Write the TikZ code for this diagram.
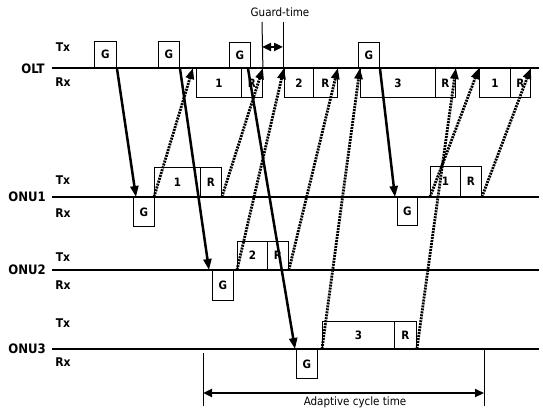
\documentclass[tikz,border=0pt]{standalone}
\usepackage{fontspec}
\setmainfont{DejaVu Sans Condensed}
\usetikzlibrary{arrows.meta}
\begin{document}
\begin{tikzpicture}[x=1pt,y=-1pt,
  slot/.style={draw=black,line width=0.9pt,fill=white,inner sep=0pt,
    font=\bfseries\fontsize{11.5}{13}\selectfont},
  axis/.style={line width=2.7pt},
  tag/.style={font=\bfseries\fontsize{12}{13}\selectfont},
  unit/.style={font=\bfseries\fontsize{13}{14}\selectfont},
  grant/.style={line width=2.5pt,-{Triangle[length=11pt,width=8pt]}},
  report/.style={line width=2.8pt,dash pattern=on 2pt off 1pt,
    -{Triangle[length=11pt,width=8pt]}},
  span/.style={line width=2.4pt,{Triangle[length=9pt,width=8pt]}-{Triangle[length=9pt,width=8pt]}},
  tick/.style={line width=1pt},
  caption/.style={font=\fontsize{11.5}{13}\selectfont}
]
\useasboundingbox[fill=white] (0,0) rectangle (543,411);

% time axes
\draw[axis] (52,68) -- (539,68);
\draw[axis] (52,197) -- (539,197);
\draw[axis] (52,270) -- (539,270);
\draw[axis] (52,349) -- (539,349);

% axis labels
\node[unit] (olt) at (33,69) {OLT};
\node[tag] (oltTx) at (63,47) {Tx};
\node[tag] (oltRx) at (63,82) {Rx};
\node[unit] (onu1) at (27,197) {ONU1};
\node[tag] (onu1Tx) at (63,180) {Tx};
\node[tag] (onu1Rx) at (63,213) {Rx};
\node[unit] (onu2) at (27,270) {ONU2};
\node[tag] (onu2Tx) at (63,257) {Tx};
\node[tag] (onu2Rx) at (63,285) {Rx};
\node[unit] (onu3) at (27,349) {ONU3};
\node[tag] (onu3Tx) at (63,323) {Tx};
\node[tag] (onu3Rx) at (63,362) {Rx};

% OLT transmitted grants
\node[slot,minimum width=22,minimum height=26,anchor=south west] (oG1) at (94,68) {G};
\node[slot,minimum width=21,minimum height=26,anchor=south west] (oG2) at (158,68) {G};
\node[slot,minimum width=21,minimum height=25,anchor=south west] (oG3) at (229,68) {G};
\node[slot,minimum width=21,minimum height=25,anchor=south west] (oG4) at (358,68) {G};

% OLT received bursts
\node[slot,minimum width=45,minimum height=29,anchor=north west] (oD1) at (196,68) {1};
\node[slot,minimum width=21,minimum height=29,anchor=north west] (oR1) at (241,68) {R};
\node[slot,minimum width=29,minimum height=29,anchor=north west] (oD2) at (284,68) {2};
\node[slot,minimum width=24,minimum height=29,anchor=north west] (oR2) at (313,68) {R};
\node[slot,minimum width=75,minimum height=29,anchor=north west] (oD3) at (360,68) {3};
\node[slot,minimum width=20,minimum height=29,anchor=north west] (oR3) at (435,68) {R};
\node[slot,minimum width=31,minimum height=29,anchor=north west] (oD4) at (479,68) {1};
\node[slot,minimum width=20,minimum height=29,anchor=north west] (oR4) at (510,68) {R};

% ONU1
\node[slot,minimum width=21,minimum height=29,anchor=north west] (aG1) at (133,197) {G};
\node[slot,minimum width=46,minimum height=29,anchor=south west] (aD1) at (154,197) {1};
\node[slot,minimum width=21,minimum height=29,anchor=south west] (aR1) at (200,197) {R};
\node[slot,minimum width=20,minimum height=28,anchor=north west] (aG2) at (397,197) {G};
\node[slot,minimum width=30,minimum height=30,anchor=south west] (aD2) at (430,197) {1};
\node[slot,minimum width=21,minimum height=30,anchor=south west] (aR2) at (460,197) {R};

% ONU2
\node[slot,minimum width=21,minimum height=30,anchor=north west] (bG) at (212,270) {G};
\node[slot,minimum width=30,minimum height=28,anchor=south west] (bD) at (237,270) {2};
\node[slot,minimum width=21,minimum height=28,anchor=south west] (bR) at (267,270) {R};

% ONU3
\node[slot,minimum width=21,minimum height=29,anchor=north west] (cG) at (296,349) {G};
\node[slot,minimum width=72,minimum height=27,anchor=south west] (cD) at (322,349) {3};
\node[slot,minimum width=22,minimum height=27,anchor=south west] (cR) at (394,349) {R};

% downstream grants
\draw[grant] (oG1.south east) -- ([xshift=3]aG1.north west);
\draw[grant] (oG2.south east) -- ([xshift=-3]bG.north west);
\draw[grant] ([xshift=-3]oG3.south east) -- ([xshift=-1]cG.north west);
\draw[grant] (oG4.south east) -- ([xshift=-2]aG2.north west);

% upstream bursts
\draw[report] (aD1.south west) -- ([xshift=-3]oD1.north west);
\draw[report] (aR1.south east) -- (oR1.north east);
\draw[report] (bD.south west) -- (oD2.north west);
\draw[report] (bR.south east) -- (oR2.north east);
\draw[report] (cD.south west) -- (oD3.north west);
\draw[report] (cR.south east) -- (oR3.north east);
\draw[report] (aD2.south west) -- (oD4.north west);
\draw[report] (aR2.south east) -- (oR4.north east);

% guard time
\coordinate (gtA) at (262,22);
\coordinate (gtB) at (283,22);
\draw[tick] (oR1.north east) -- (gtA);
\draw[tick] ([xshift=-1]oD2.north west) -- (gtB);
\coordinate (gtL) at (262,47);
\coordinate (gtR) at (283,47);
\draw[span] (gtL) -- (gtR);
\node[caption] (gtText) at (280,12) {Guard-time};

% adaptive cycle time
\coordinate (cyA) at (203,353);
\coordinate (cyB) at (203,406);
\coordinate (cyC) at (484,349);
\coordinate (cyD) at (484,406);
\draw[tick] (cyA) -- (cyB);
\draw[tick] (cyC) -- (cyD);
\coordinate (cyL) at (203,393);
\coordinate (cyR) at (484,393);
\draw[span] (cyL) -- (cyR);
\node[caption] (cyText) at (355,402) {Adaptive cycle time};
\end{tikzpicture}
\end{document}
